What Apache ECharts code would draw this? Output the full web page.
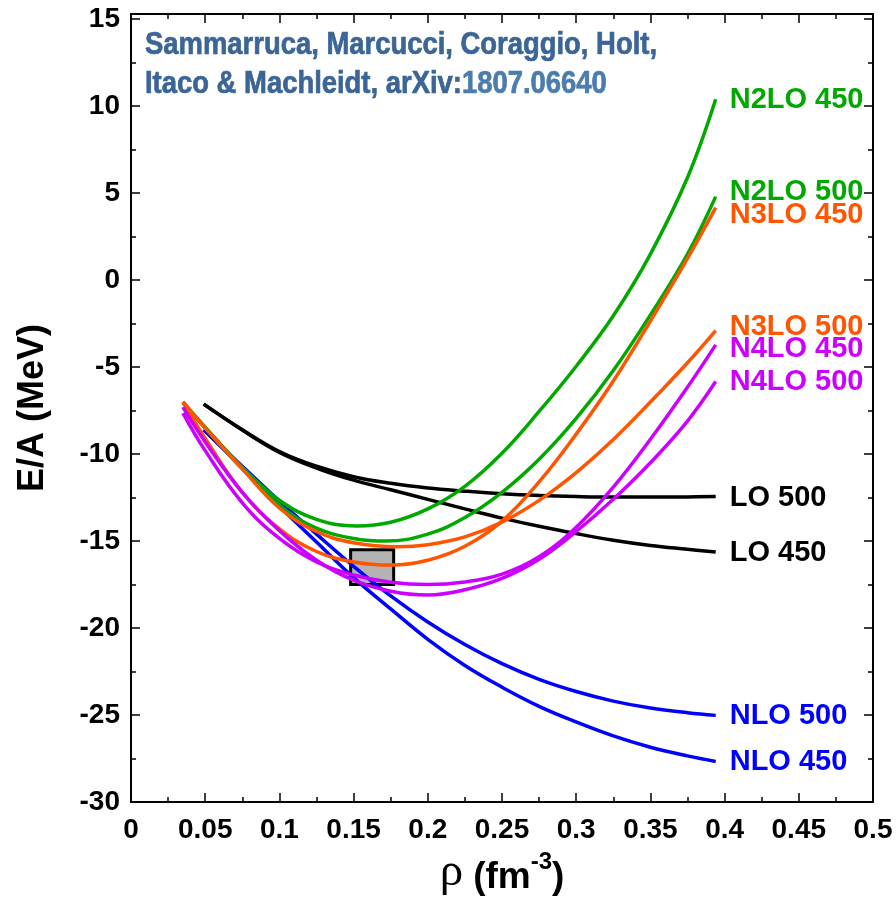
<!DOCTYPE html>
<html><head><meta charset="utf-8">
<script src="https://cdn.jsdelivr.net/npm/echarts@6/dist/echarts.min.js"></script>
<style>html,body{margin:0;padding:0;background:#fff}#c{width:896px;height:898px}</style>
</head><body><div id="c"></div>
<script>
// ---- data (rho in fm^-3, E/A in MeV) ----
const lo450 = [[0.049,-7.13],[0.075,-8.62],[0.1,-9.9],[0.125,-10.8],[0.15,-11.5],[0.175,-12.05],[0.2,-12.6],[0.225,-13.15],[0.25,-13.68],[0.275,-14.15],[0.3,-14.57],[0.325,-14.95],[0.35,-15.25],[0.375,-15.47],[0.394,-15.63]];
const lo500 = [[0.049,-7.13],[0.075,-8.6],[0.1,-9.85],[0.125,-10.7],[0.15,-11.3],[0.175,-11.68],[0.2,-11.95],[0.225,-12.13],[0.25,-12.28],[0.275,-12.38],[0.3,-12.44],[0.325,-12.47],[0.35,-12.47],[0.375,-12.46],[0.394,-12.44]];
const nlo450 = [[0.049,-8.6],[0.075,-10.8],[0.1,-13.0],[0.125,-15.05],[0.15,-17.1],[0.175,-18.9],[0.2,-20.65],[0.225,-22.15],[0.25,-23.4],[0.275,-24.5],[0.3,-25.4],[0.325,-26.2],[0.35,-26.85],[0.375,-27.35],[0.394,-27.67]];
const nlo500 = [[0.049,-8.6],[0.075,-10.7],[0.1,-12.7],[0.125,-14.6],[0.15,-16.45],[0.175,-18.15],[0.2,-19.65],[0.225,-20.95],[0.25,-22.05],[0.275,-22.95],[0.3,-23.65],[0.325,-24.2],[0.35,-24.6],[0.375,-24.87],[0.394,-25.02]];
const n2lo450 = [[0.035,-7.0],[0.05,-8.45],[0.075,-10.75],[0.1,-12.65],[0.125,-13.75],[0.152,-14.13],[0.175,-13.92],[0.2,-13.15],[0.225,-11.85],[0.25,-9.95],[0.275,-7.55],[0.3,-4.95],[0.325,-2.05],[0.35,1.5],[0.375,5.9],[0.394,10.4]];
const n2lo500 = [[0.035,-7.05],[0.05,-8.5],[0.075,-10.85],[0.1,-12.95],[0.125,-14.25],[0.15,-14.85],[0.172,-15.0],[0.2,-14.6],[0.225,-13.65],[0.25,-12.2],[0.275,-10.3],[0.3,-7.95],[0.325,-5.2],[0.35,-2.0],[0.375,1.5],[0.394,4.8]];
const n3lo450 = [[0.035,-7.0],[0.05,-9.1],[0.075,-12.2],[0.1,-14.3],[0.125,-15.6],[0.15,-16.2],[0.175,-16.38],[0.2,-16.1],[0.225,-15.3],[0.25,-13.85],[0.275,-11.6],[0.3,-8.85],[0.325,-5.8],[0.35,-2.35],[0.375,1.25],[0.394,4.17]];
const n3lo500 = [[0.035,-7.0],[0.05,-8.5],[0.075,-10.85],[0.1,-13.1],[0.125,-14.45],[0.15,-15.1],[0.18,-15.33],[0.2,-15.21],[0.225,-14.76],[0.25,-13.91],[0.275,-12.66],[0.3,-11.06],[0.325,-9.16],[0.35,-7.01],[0.375,-4.75],[0.394,-2.9]];
const n4lo450 = [[0.035,-7.64],[0.05,-9.8],[0.075,-12.8],[0.1,-14.85],[0.125,-16.2],[0.15,-16.95],[0.175,-17.37],[0.2,-17.5],[0.225,-17.35],[0.25,-16.9],[0.275,-15.9],[0.3,-14.2],[0.325,-11.9],[0.35,-9.15],[0.375,-6.15],[0.394,-3.72]];
const n4lo500 = [[0.035,-7.3],[0.05,-9.3],[0.075,-12.2],[0.1,-14.4],[0.125,-16.1],[0.15,-17.25],[0.175,-17.88],[0.2,-18.1],[0.225,-17.8],[0.25,-17.15],[0.275,-16.05],[0.3,-14.45],[0.325,-12.6],[0.35,-10.5],[0.375,-8.1],[0.394,-5.83]];
const boxRho = [0.148, 0.177];
const boxE = [-17.5, -15.5];
const titleLine1 = 'Sammarruca, Marcucci, Coraggio, Holt,';
const titleLine2a = 'Itaco & Machleidt, arXiv:';
const titleLine2b = '1807.06640';

// ---- styling ----
const FONT = '"Liberation Sans", Arial, Helvetica, sans-serif';
const GREEN = '#00a800', ORANGE = '#ff5500', MAGENTA = '#cc00ff', BLUE = '#0000ff', BLACK = '#000000';

const curves = [
  {name:'LO 500', data:lo500, color:BLACK, dy:1},
  {name:'LO 450', data:lo450, color:BLACK, dy:1},
  {name:'NLO 500', data:nlo500, color:BLUE, dy:1},
  {name:'NLO 450', data:nlo450, color:BLUE, dy:1},
  {name:'N2LO 450', data:n2lo450, color:GREEN, dy:1},
  {name:'N2LO 500', data:n2lo500, color:GREEN, dy:-5},
  {name:'N3LO 450', data:n3lo450, color:ORANGE, dy:7},
  {name:'N3LO 500', data:n3lo500, color:ORANGE, dy:-4},
  {name:'N4LO 450', data:n4lo450, color:MAGENTA, dy:4},
  {name:'N4LO 500', data:n4lo500, color:MAGENTA, dy:0}
];

const series = curves.map(c => ({
  type:'line', name:c.name, data:c.data, smooth:0.4, showSymbol:false, symbol:'none',
  xAxisIndex:0, yAxisIndex:0,
  lineStyle:{color:c.color, width:3.5}, itemStyle:{color:c.color},
  z:3,
  endLabel:{show:true, formatter:c.name, color:c.color, fontFamily:FONT, fontWeight:'bold', fontSize:29,
            distance:14, offset:[0,c.dy]}
}));
series.unshift({
  type:'line', data:[], xAxisIndex:0, yAxisIndex:0, z:2,
  markArea:{silent:true, itemStyle:{color:'#b3b3b3', borderColor:'#000', borderWidth:3},
    data:[[{coord:[boxRho[0], boxE[1]]},{coord:[boxRho[1], boxE[0]]}]]}
});

const ctx = document.createElement('canvas').getContext('2d');
const titleFont = 'bold 31px ' + FONT;
ctx.font = titleFont;
const sx = 512 / ctx.measureText(titleLine1).width;

const axisLineStyle = {show:true, onZero:false, lineStyle:{color:'#000', width:2}};
const baseX = {
  type:'value', min:0, max:0.5, interval:0.05, splitLine:{show:false},
  axisLine:axisLineStyle,
  axisTick:{show:true, inside:true, length:9, lineStyle:{color:'#000', width:1.5}},
  minorTick:{show:true, splitNumber:2, length:5, lineStyle:{color:'#000', width:1.5}},
  minorSplitLine:{show:false}
};
const yMajor = {
  type:'value', min:-30, max:15.3, interval:5, splitLine:{show:false}, offset:0,
  axisLine:axisLineStyle,
  axisTick:{show:true, inside:true, length:9, lineStyle:{color:'#000', width:1.5}}
};
const yMinor = {
  type:'value', min:-30, max:15.3, interval:2.5, splitLine:{show:false}, offset:0,
  axisLine:{show:false, onZero:false}, axisLabel:{show:false},
  axisTick:{show:true, inside:true, length:5, lineStyle:{color:'#000', width:1.5}}
};

const TITLE_C = '#3b6597', TITLE_C2 = '#4a7cae';
const option = {
  animation:false,
  backgroundColor:'#fff',
  grid:{left:131, right:23, top:14, bottom:96, containLabel:false, outerBoundsMode:'none'},
  xAxis:[
    Object.assign({}, baseX, {position:'bottom',
      axisLabel:{show:true, margin:14, color:'#000', fontFamily:FONT, fontWeight:'bold', fontSize:28},
      name:'{r|ρ}{g| }{b|(fm}{s|-3}{b|)}', nameLocation:'middle', nameGap:47,
      nameTextStyle:{color:'#000', rich:{
        r:{fontFamily:'"Liberation Serif", "Times New Roman", serif', fontSize:47, color:'#000', lineHeight:46, verticalAlign:'bottom'},
        g:{fontFamily:FONT, fontSize:37, color:'#000', lineHeight:46, width:10},
        b:{fontFamily:FONT, fontWeight:'bold', fontSize:37, color:'#000', lineHeight:46, verticalAlign:'bottom'},
        s:{fontFamily:FONT, fontWeight:'bold', fontSize:24, color:'#000', lineHeight:46, verticalAlign:'top'}
      }}}),
    Object.assign({}, baseX, {position:'top', axisLabel:{show:false}})
  ],
  yAxis:[
    Object.assign({}, yMajor, {position:'left',
      axisLabel:{show:true, margin:11, showMaxLabel:false, color:'#000', fontFamily:FONT, fontWeight:'bold', fontSize:28},
      name:'E/A (MeV)', nameLocation:'middle', nameGap:80, nameRotate:90,
      nameTextStyle:{color:'#000', fontFamily:FONT, fontWeight:'bold', fontSize:36}}),
    Object.assign({}, yMajor, {position:'right', axisLabel:{show:false}}),
    Object.assign({}, yMinor, {position:'left'}),
    Object.assign({}, yMinor, {position:'right'})
  ],
  graphic:[
    {type:'text', x:145, y:30, scaleX:sx, originX:0, originY:0, z:10,
      style:{text:titleLine1, font:titleFont, fill:TITLE_C, stroke:TITLE_C, lineWidth:0.7, align:'left', verticalAlign:'top'}},
    {type:'text', x:145, y:68.5, scaleX:sx, originX:0, originY:0, z:10,
      style:{text:titleLine2a + '{d|' + titleLine2b + '}', font:titleFont, fill:TITLE_C, stroke:TITLE_C, lineWidth:0.7,
        align:'left', verticalAlign:'top',
        rich:{d:{font:titleFont, fill:TITLE_C2, stroke:TITLE_C2, lineWidth:0.7}}}}
  ],
  series:series
};
const chart = echarts.init(document.getElementById('c'), null, {renderer:'canvas'});
chart.setOption(option);
</script>
</body></html>
